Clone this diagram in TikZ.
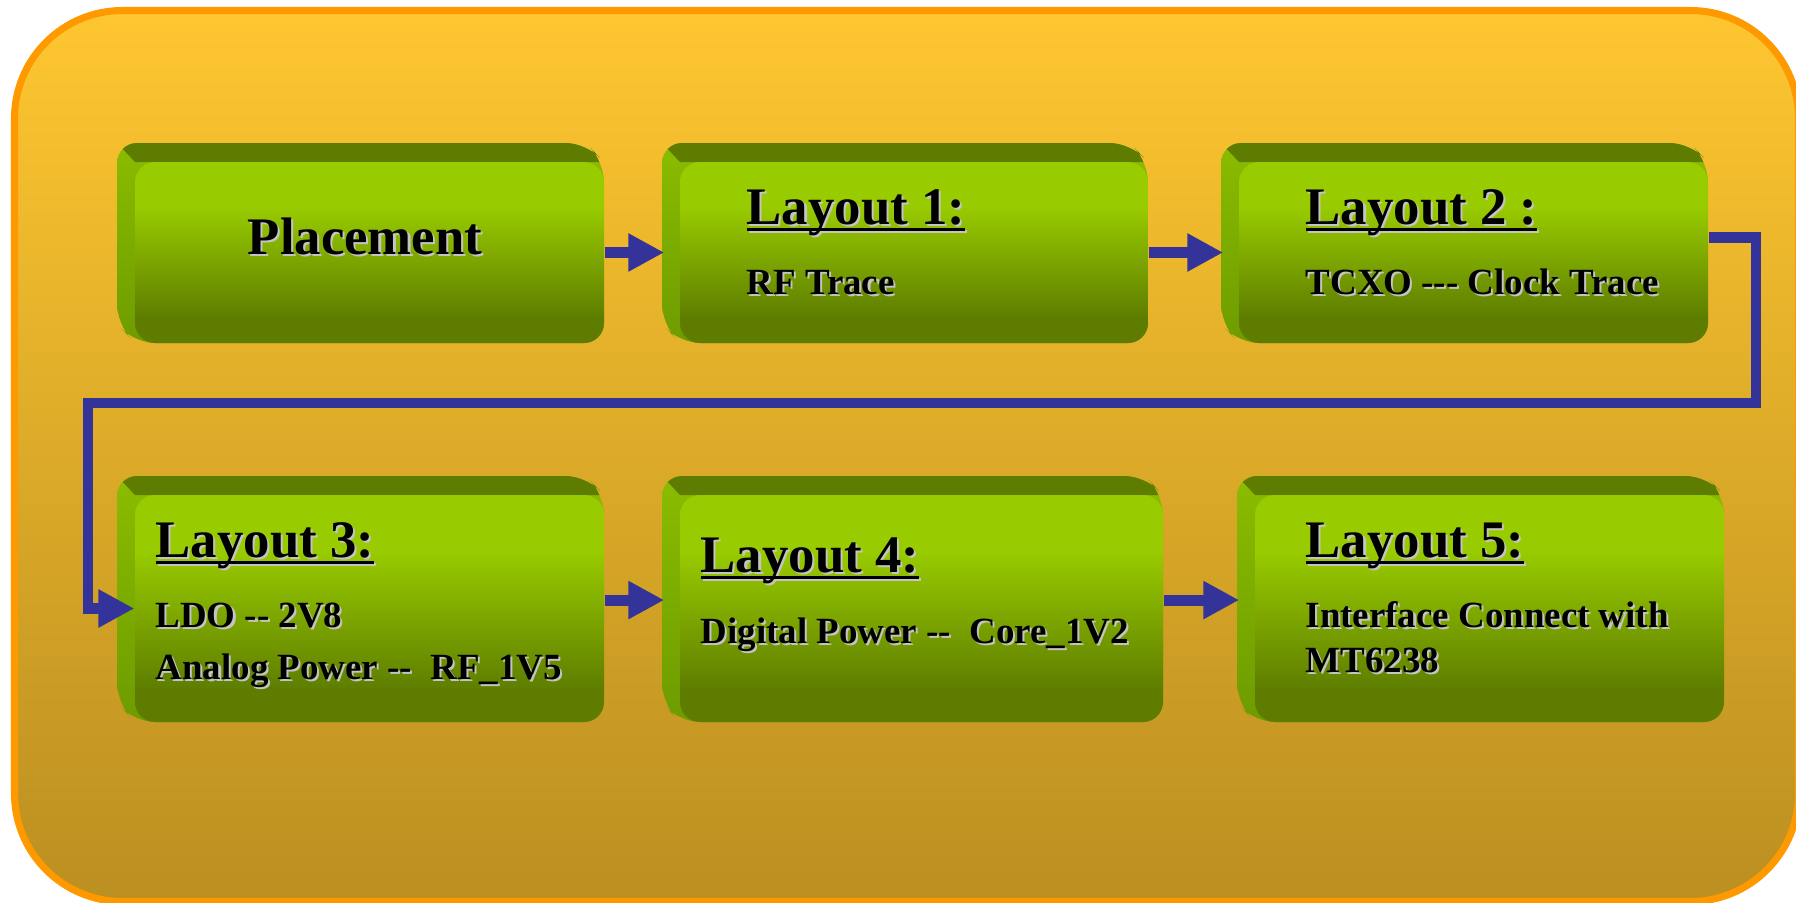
\documentclass[tikz,border=0pt]{standalone}
\usepackage{fontspec}
\setmainfont{Liberation Serif}[Ligatures=TeXOff]
\usepackage{tikz}
\usetikzlibrary{
arrows.meta,
positioning,
fit,
calc
}
\definecolor{flowsun}{RGB}{254,198,48}
\definecolor{flowochre}{RGB}{187,143,33}
\definecolor{flowrim}{HTML}{FF9900}
\definecolor{flowlime}{HTML}{99CC00}
\definecolor{flowolive}{HTML}{5E7D00}
\definecolor{flowside}{HTML}{8ABD00}
\definecolor{flowsidedark}{HTML}{6E9B00}
\definecolor{flowblue}{HTML}{333399}
\definecolor{flowshadow}{HTML}{C4C4C4}

\pgfdeclareverticalshading{facegrad}{100bp}{color(0bp)=(flowolive); color(32bp)=(flowolive); color(63bp)=(flowlime); color(100bp)=(flowlime)}

% grey drop shadow behind bold text
\newcommand{\embossed}[1]{\makebox[0pt][l]{\kern0.6pt\raisebox{-0.6pt}{\color{flowshadow}#1}}#1}
% heavy underline for the step titles
\newcommand{\headrule}[1]{\setbox0=\hbox{#1}\rlap{\rule[-1.9pt]{\wd0}{0.75pt}}\box0}

\tikzset{
  face/.style={shade, shading=facegrad, rounded corners=5.7pt, inner sep=0pt},
  sideface/.style={top color=flowside, bottom color=flowsidedark},
  headtext/.style={anchor=base west, inner sep=0pt, font=\fontsize{15}{18}\selectfont\bfseries},
  bodytext/.style={anchor=base west, inner sep=0pt, font=\fontsize{10.5}{13}\selectfont\bfseries},
  flow/.style={flowblue, line width=3.1pt, -{Triangle[length=10.2pt,width=10.2pt]}},
}

% back and left side of a 3D slab, front face (#1,#2)-(#3,#4)
\newcommand{\slabback}[4]{%
  \begin{scope}
    \clip[rounded corners=5.7pt] (#1-18,#2-19) -- (#3-18,#2-19) -- (#3,#2) -- (#3,#4) -- (#1,#4) -- (#1-18,#4-19) -- cycle;
    \shade[sideface] (#1-18,#2-19) rectangle (#3,#4);
    \fill[flowolive] (#1-18,#2-19) -- (#3-18,#2-19) -- (#3,#2) -- (#1,#2) -- cycle;
  \end{scope}
}

\begin{document}
\begin{tikzpicture}[x=0.01cm, y=-0.01cm]
  \useasboundingbox (0,0) rectangle (1796,903);
  \clip (0,0) rectangle (1796,903);
  % Backdrop panel
  \draw[flowrim, line width=2pt, rounded corners=30.7pt, top color=flowsun, bottom color=flowochre] (14.5,10.5) rectangle (1798.5,901.5);

  % Row one
  \slabback{135}{162}{604}{343}
  \node[face, fit={(135,162) (604,343)}] (place) {};
  \slabback{680}{162}{1148}{343}
  \node[face, fit={(680,162) (1148,343)}] (lay1) {};
  \slabback{1239}{162}{1708}{343}
  \node[face, fit={(1239,162) (1708,343)}] (lay2) {};

  % Row two
  \slabback{135}{495}{604}{722}
  \node[face, fit={(135,495) (604,722)}] (lay3) {};
  \slabback{680}{495}{1163}{722}
  \node[face, fit={(680,495) (1163,722)}] (lay4) {};
  \slabback{1255}{495}{1724}{722}
  \node[face, fit={(1255,495) (1724,722)}] (lay5) {};

  % Texts
  \node[headtext, anchor=base] (place-head) at (365,254) {\embossed{Placement}};
  \node[headtext] (lay1-head) at (746,224) {\embossed{\headrule{Layout 1:}}};
  \node[bodytext] (lay1-a) at (746,294) {\embossed{RF Trace}};
  \node[headtext] (lay2-head) at (1305,224) {\embossed{\headrule{Layout 2 :}}};
  \node[bodytext] (lay2-a) at (1305,294) {\embossed{TCXO --- Clock Trace}};
  \node[headtext] (lay3-head) at (155,557) {\embossed{\headrule{Layout 3:}}};
  \node[bodytext] (lay3-a) at (155,627) {\embossed{LDO -- 2V8}};
  \node[bodytext] (lay3-b) at (155,679) {\embossed{Analog Power -- \ RF\_1V5}};
  \node[headtext] (lay4-head) at (700,572) {\embossed{\headrule{Layout 4:}}};
  \node[bodytext] (lay4-a) at (700,643) {\embossed{Digital Power -- \ Core\_1V2}};
  \node[headtext] (lay5-head) at (1305,557) {\embossed{\headrule{Layout 5:}}};
  \node[bodytext] (lay5-a) at (1305,627) {\embossed{Interface Connect with}};
  \node[bodytext] (lay5-b) at (1305,672) {\embossed{MT6238}};

  % Flow arrows
  \draw[flow] (place.east) -- ([xshift=-4.3pt]lay1.west);
  \draw[flow] (lay1.east) -- ([xshift=-4.3pt]lay2.west);
  \coordinate (bendR) at (1756,403);
  \coordinate (bendL) at (88,403);
  \draw[flow] ([yshift=4.27pt]lay2.east) -| (bendR) -- (bendL) |- (lay3.west);
  \draw[flow] ([yshift=2.4pt]lay3.east) -- ([xshift=-4.3pt,yshift=2.4pt]lay4.west);
  \draw[flow] ([yshift=2.4pt]lay4.east) -- ([xshift=-4.3pt,yshift=2.4pt]lay5.west);
\end{tikzpicture}
\end{document}
